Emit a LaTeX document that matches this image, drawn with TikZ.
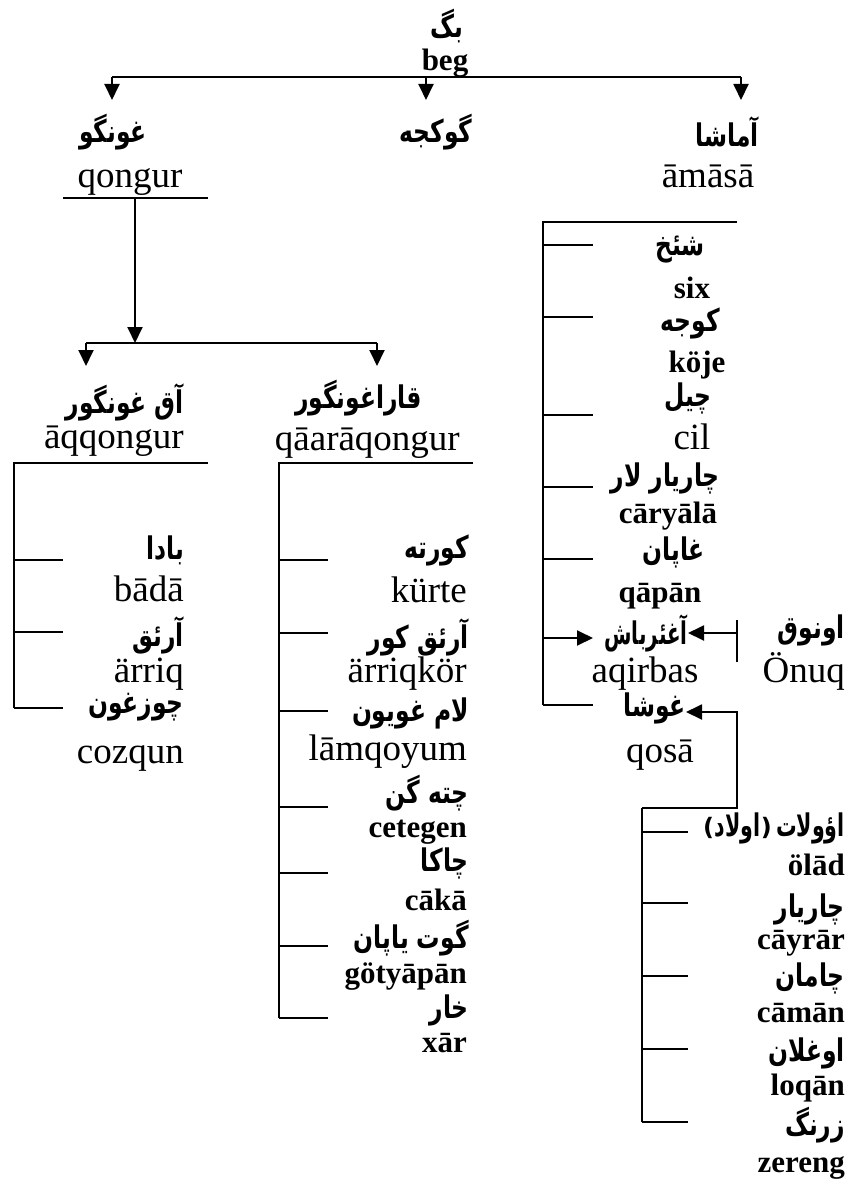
\documentclass[tikz,border=0pt]{standalone}
\usepackage{fontspec}
\usepackage{graphicx}
\setmainfont{Liberation Serif}
\newfontfamily\arabicfont[Script=Arabic]{DejaVu Sans}
\newfontfamily\dvsans{DejaVu Sans}
\TeXXeTstate=1
\usetikzlibrary{arrows.meta}
\newcommand\AR[1]{\scalebox{0.9}[1.2]{\beginR #1\endR}}
\tikzset{
  reg/.style={font=\fontsize{37}{40}\selectfont, inner sep=0pt, anchor=base},
  bld/.style={font=\fontsize{31}{34}\selectfont\bfseries, inner sep=0pt, anchor=base},
  ar/.style={font=\arabicfont\bfseries\fontsize{26}{30}\selectfont, inner sep=0pt},
  arp/.style={font=\dvsans\bfseries\fontsize{24}{28}\selectfont, inner sep=0pt},
  ln/.style={line width=1.9pt},
  arr/.style={ln,-{Triangle[width=15pt,length=16pt]}},
}
\begin{document}
\begin{tikzpicture}[x=1pt,y=-1pt]
\useasboundingbox (0,0) rectangle (852,1180);
\fill[white] (0,0) rectangle (852,1180);

% ---------- top ----------
\node[ar] (begA) at (447,26) {\AR{بگ}};
\node[bld, anchor=base] (beg) at (445,71) {beg};
\coordinate (hL) at (112,77);
\coordinate (hM) at (426,77);
\coordinate (hR) at (741,77);
\draw[ln] (hL) -- (hR);

\node[ar] (qongA) at (113,132) {\AR{غونگو}};
\node[reg, anchor=base] (qong) at (130,187) {qongur};
\node[ar] (gokA) at (436,132) {\AR{گوکجه}};
\node[ar] (amaA) at (727,132) {\AR{آماشا}};
\node[reg, anchor=base] (ama) at (708,187) {āmāsā};

\coordinate (aL) at (112,100);
\coordinate (aM) at (426,100);
\coordinate (aR) at (741,100);
\draw[arr] (hL) -- (aL);
\draw[arr] (hM) -- (aM);
\draw[arr] (hR) -- (aR);

% ---------- qongur branch ----------
\coordinate (qlL) at (63,198);
\coordinate (qlR) at (208,198);
\coordinate (qlM) at (135,198);
\draw[ln] (qlL) -- (qlR);
\coordinate (qsplit) at (135,343);
\draw[arr] (qlM) -- (qsplit);
\coordinate (sL) at (86,343);
\coordinate (sR) at (377,343);
\draw[ln] (sL) -- (sR);
\coordinate (sLt) at (86,366);
\coordinate (sRt) at (377,366);
\draw[arr] (sL) -- (sLt);
\draw[arr] (sR) -- (sRt);

% ---------- left column ----------
\node[ar, anchor=east] (aqA) at (184,402) {\AR{آق غونگور}};
\node[reg, anchor=base east] (aq) at (184,448) {āqqongur};
\coordinate (L0) at (14,463);
\coordinate (L0r) at (208,463);
\draw[ln] (L0r) -- (L0) -- (14,708);
\foreach \yy in {560,632,708} \draw[ln] (14,\yy) -- (63,\yy);
\node[ar, anchor=east] (badaA) at (184,550) {\AR{بادا}};
\node[reg, anchor=base east] (bada) at (184,601) {bādā};
\node[ar, anchor=east] (arriqA) at (184,635) {\AR{آرئق}};
\node[reg, anchor=base east] (arriq) at (184,682) {ärriq};
\node[ar, anchor=east] (cozA) at (184,707) {\AR{چوزغون}};
\node[reg, anchor=base east] (coz) at (184,763) {cozqun};

% ---------- middle column ----------
\node[ar, anchor=east] (qaraA) at (422,398) {\AR{قاراغونگور}};
\node[reg, anchor=base east] (qara) at (460,450) {qāarāqongur};
\coordinate (M0) at (279,463);
\coordinate (M0r) at (473,463);
\draw[ln] (M0r) -- (M0) -- (279,1018);
\foreach \yy in {560,633,711,807,873,946,1018} \draw[ln] (279,\yy) -- (328,\yy);
\node[ar, anchor=east] (kurA) at (469,550) {\AR{کورته}};
\node[reg, anchor=base east] (kur) at (467,602) {kürte};
\node[ar, anchor=east] (arkA) at (469,637) {\AR{آرئق کور}};
\node[reg, anchor=base east] (ark) at (467,682) {ärriqkör};
\node[ar, anchor=east] (lamA) at (469,713) {\AR{لام غويون}};
\node[reg, anchor=base east] (lam) at (467,760) {lāmqoyum};
\node[ar, anchor=east] (cetA) at (469,793) {\AR{چته گن}};
\node[bld, anchor=base east] (cet) at (467,837) {cetegen};
\node[ar, anchor=east] (cakA) at (469,863) {\AR{چاکا}};
\node[bld, anchor=base east] (cak) at (467,910) {cākā};
\node[ar, anchor=east] (gotA) at (469,938) {\AR{گوت ياپان}};
\node[bld, anchor=base east] (got) at (467,983) {götyāpān};
\node[ar, anchor=east] (xarA) at (469,1010) {\AR{خار}};
\node[bld, anchor=base east] (xar) at (467,1052) {xār};

% ---------- right column ----------
\coordinate (R0) at (543,222);
\coordinate (R0r) at (737,222);
\draw[ln] (R0r) -- (R0) -- (543,705);
\foreach \yy in {245,317,415,487,559,705} \draw[ln] (543,\yy) -- (593,\yy);
\node[ar, anchor=east] (sixA) at (705,250) {\AR{شئخ}};
\node[bld, anchor=base] (six) at (692,298) {six};
\node[ar, anchor=east] (kojA) at (720,323) {\AR{کوجه}};
\node[bld, anchor=base] (koj) at (697,372) {köje};
\node[ar, anchor=east] (cilA) at (712,398) {\AR{چیل}};
\node[reg, anchor=base] (cil) at (692,449) {cil};
\node[ar, anchor=east] (caryA) at (720,478) {\AR{چاریار لار}};
\node[bld, anchor=base] (cary) at (668,523) {cāryālā};
\node[ar, anchor=east] (qapA) at (705,552) {\AR{غاپان}};
\node[bld, anchor=base] (qap) at (660,602) {qāpān};

\node[ar, anchor=east] (aqirA) at (688,633) {\scalebox{0.85}[1]{\AR{آغئرباش}}};
\node[reg, anchor=base] (aqir) at (645,682) {aqirbas};
\node[ar, anchor=east] (onuqA) at (845,630) {\AR{اونوق}};
\node[reg, anchor=base east] (onuq) at (845,682) {Önuq};
\coordinate (tkT) at (737,620);
\coordinate (tkB) at (737,662);
\coordinate (tkM) at (737,633);
\draw[ln] (tkT) -- (tkB);
\draw[arr] (tkM) -- (aqirA.east);
\coordinate (aqin) at (543,638);
\coordinate (aqinT) at (593,638);
\draw[arr] (aqin) -- (aqinT);

\node[ar, anchor=east] (qosA) at (686,708) {\AR{غوشا}};
\node[reg, anchor=base] (qos) at (660,762) {qosā};

\coordinate (B0) at (642,808);
\coordinate (Bc) at (737,712);
\draw[arr] (B0) -| (Bc) -- (qosA.east |- Bc);
\draw[ln] (B0) -- (642,1122);
\foreach \yy in {832,903,976,1049,1122} \draw[ln] (642,\yy) -- (688,\yy);

\node[ar, anchor=east] (oladA) at (845,828) {\scalebox{0.88}[1]{\AR{اؤولات}}};
\node[arp, anchor=east] (oladR) at ([xshift=-4pt]oladA.west) {)};
\node[ar, anchor=east] (oladB) at (oladR.west) {\scalebox{0.88}[1]{\AR{اولاد}}};
\node[arp, anchor=east] (oladL) at (oladB.west) {(};
\node[bld, anchor=base east] (olad) at (845,875) {ölād};
\node[ar, anchor=east] (cayA) at (845,909) {\AR{چاریار}};
\node[bld, anchor=base east] (cay) at (845,949) {cāyrār};
\node[ar, anchor=east] (camA) at (845,978) {\AR{چامان}};
\node[bld, anchor=base east] (cam) at (845,1022) {cāmān};
\node[ar, anchor=east] (oglA) at (845,1053) {\AR{اوغلان}};
\node[bld, anchor=base east] (ogl) at (845,1095) {loqān};
\node[ar, anchor=east] (zerA) at (845,1125) {\AR{زرنگ}};
\node[bld, anchor=base east] (zer) at (845,1172) {zereng};
\end{tikzpicture}
\end{document}
